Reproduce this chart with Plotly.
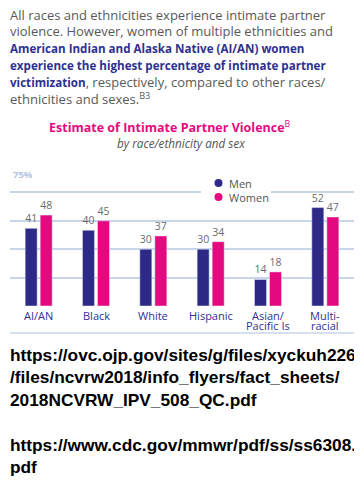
import plotly.graph_objects as go

categories = ["AI/AN", "Black", "White", "Hispanic", "Asian/Pacific Is", "Multi-racial"]
tick_lines = [["AI/AN"], ["Black"], ["White"], ["Hispanic"], ["Asian/", "Pacific Is"], ["Multi-", "racial"]]
men = [41, 40, 30, 30, 14, 52]
women = [48, 45, 37, 34, 18, 47]
series_names = ["Men", "Women"]

MEN_C = "#2d2a87"
WOMEN_C = "#e5097f"
BLUE_TXT = "#2e3192"
GRID_C = "#c9d5e9"
FONT = "Open Sans, sans-serif"

# the page body has an 8px margin; layout below is in page pixels
OFF = 8
W, H = 362 - OFF, 485 - OFF
ML, MR, MT, MB = 10 - OFF, 362 - 354, 164 - OFF, 485 - 306
PW = W - ML - MR
PH = H - MT - MB

def px(x):
    return (x - OFF - ML) / PW

def py(y):
    return (H - MB - (y - OFF)) / PH

fig = go.Figure()
for name, vals, col in [(series_names[0], men, MEN_C), (series_names[1], women, WOMEN_C)]:
    fig.add_trace(go.Bar(
        x=categories, y=vals, name=name, marker_color=col, showlegend=False,
        text=[str(v) for v in vals], textposition="outside",
        textfont=dict(color="#6b6b6b", size=10.5, family=FONT),
        cliponaxis=False,
    ))

annotations = []

BS = "<span style='font-size:11.6px'><b>%s</b></span>"
para = [
    ("All races and ethnicities experience intimate partner", False),
    ("violence. However, women of multiple ethnicities and", False),
    (BS % "American Indian and Alaska Native (AI/AN) women", True),
    (BS % "experience the highest percentage of intimate partner", True),
    ("<span style='color:%s'>%s</span>, respectively, compared to other races/" % (BLUE_TXT, BS % "victimization"), False),
    ("ethnicities and sexes.<sup>B3</sup>", False),
]
line_y = [14.5, 31, 48, 65, 82, 99]
for (t, bold), yy in zip(para, line_y):
    annotations.append(dict(
        text=t, x=px(8), y=py(yy), xref="paper", yref="paper",
        xanchor="left", yanchor="middle", showarrow=False,
        font=dict(size=13, family=FONT, color=BLUE_TXT if bold else "#595959"),
    ))

annotations.append(dict(
    text="<b>Estimate of Intimate Partner Violence</b><sup>B</sup>",
    x=px(170), y=py(127), xref="paper", yref="paper", xanchor="center", yanchor="middle",
    showarrow=False, font=dict(size=12.5, family=FONT, color=WOMEN_C),
))
annotations.append(dict(
    text="<i>by race/ethnicity and sex</i>",
    x=px(181), y=py(143), xref="paper", yref="paper", xanchor="center", yanchor="middle",
    showarrow=False, font=dict(size=11.7, family=FONT, color="#555555"),
))
annotations.append(dict(
    text="<b>75%</b>",
    x=px(11), y=py(174), xref="paper", yref="paper", xanchor="left", yanchor="middle",
    showarrow=False, font=dict(size=9.5, family=FONT, color="#b3c4e0"),
))

# category labels (tight line spacing like the reference)
for cat, lines in zip(categories, tick_lines):
    for i, ln in enumerate(lines):
        annotations.append(dict(
            text=ln, x=cat, y=py(315 + 10.5 * i), xref="x", yref="paper",
            xanchor="center", yanchor="middle", showarrow=False,
            font=dict(size=11, family=FONT, color=BLUE_TXT),
        ))

# legend (hand placed for tight spacing)
shapes = []
leg_y = [183, 197]
for name, yy in zip(series_names, leg_y):
    annotations.append(dict(
        text=name, x=px(227), y=py(yy), xref="paper", yref="paper",
        xanchor="left", yanchor="middle", showarrow=False,
        font=dict(size=11, family=FONT, color="#555555"),
    ))
shapes.append(dict(type="rect", xref="paper", yref="paper", x0=px(201), x1=px(271),
                   y0=py(204), y1=py(176), fillcolor="white", line=dict(width=0), layer="above"))
for col, yy in zip([MEN_C, WOMEN_C], leg_y):
    shapes.append(dict(type="circle", xref="paper", yref="paper",
                       x0=px(214.5), x1=px(222.5), y0=py(yy + 4), y1=py(yy - 4),
                       fillcolor=col, line=dict(width=0), layer="above"))

urls = [
    ("https://ovc.ojp.gov/sites/g/files/xyckuh226", 355),
    ("/files/ncvrw2018/info_flyers/fact_sheets/", 377),
    ("2018NCVRW_IPV_508_QC.pdf", 400),
    ("https://www.cdc.gov/mmwr/pdf/ss/ss6308.", 445),
    ("pdf", 467),
]
for t, yy in urls:
    annotations.append(dict(
        text="<b>%s</b>" % t, x=px(8), y=py(yy), xref="paper", yref="paper",
        xanchor="left", yanchor="middle", showarrow=False,
        font=dict(size=17.3, family="Liberation Sans, Arial, sans-serif", color="#000000"),
    ))

shapes.append(dict(type="line", xref="paper", yref="paper", x0=0, x1=1, y0=py(333), y1=py(333),
                   line=dict(color=GRID_C, width=1.5)))

fig.update_layout(
    width=W, height=H, autosize=False,
    margin=dict(l=ML, r=MR, t=MT, b=MB, pad=0),
    paper_bgcolor="white", plot_bgcolor="white",
    barmode="group", bargap=0.476, bargroupgap=0.2,
    annotations=annotations, shapes=shapes,
    showlegend=False,
    xaxis=dict(showgrid=False, showline=False, ticks="", zeroline=False,
               showticklabels=False, automargin=False),
    yaxis=dict(range=[0, 75], dtick=15, tick0=0, showgrid=True, gridcolor=GRID_C, gridwidth=1.5,
               showticklabels=False, zeroline=False, showline=False, automargin=False),
)

fig.write_html("out.html")
